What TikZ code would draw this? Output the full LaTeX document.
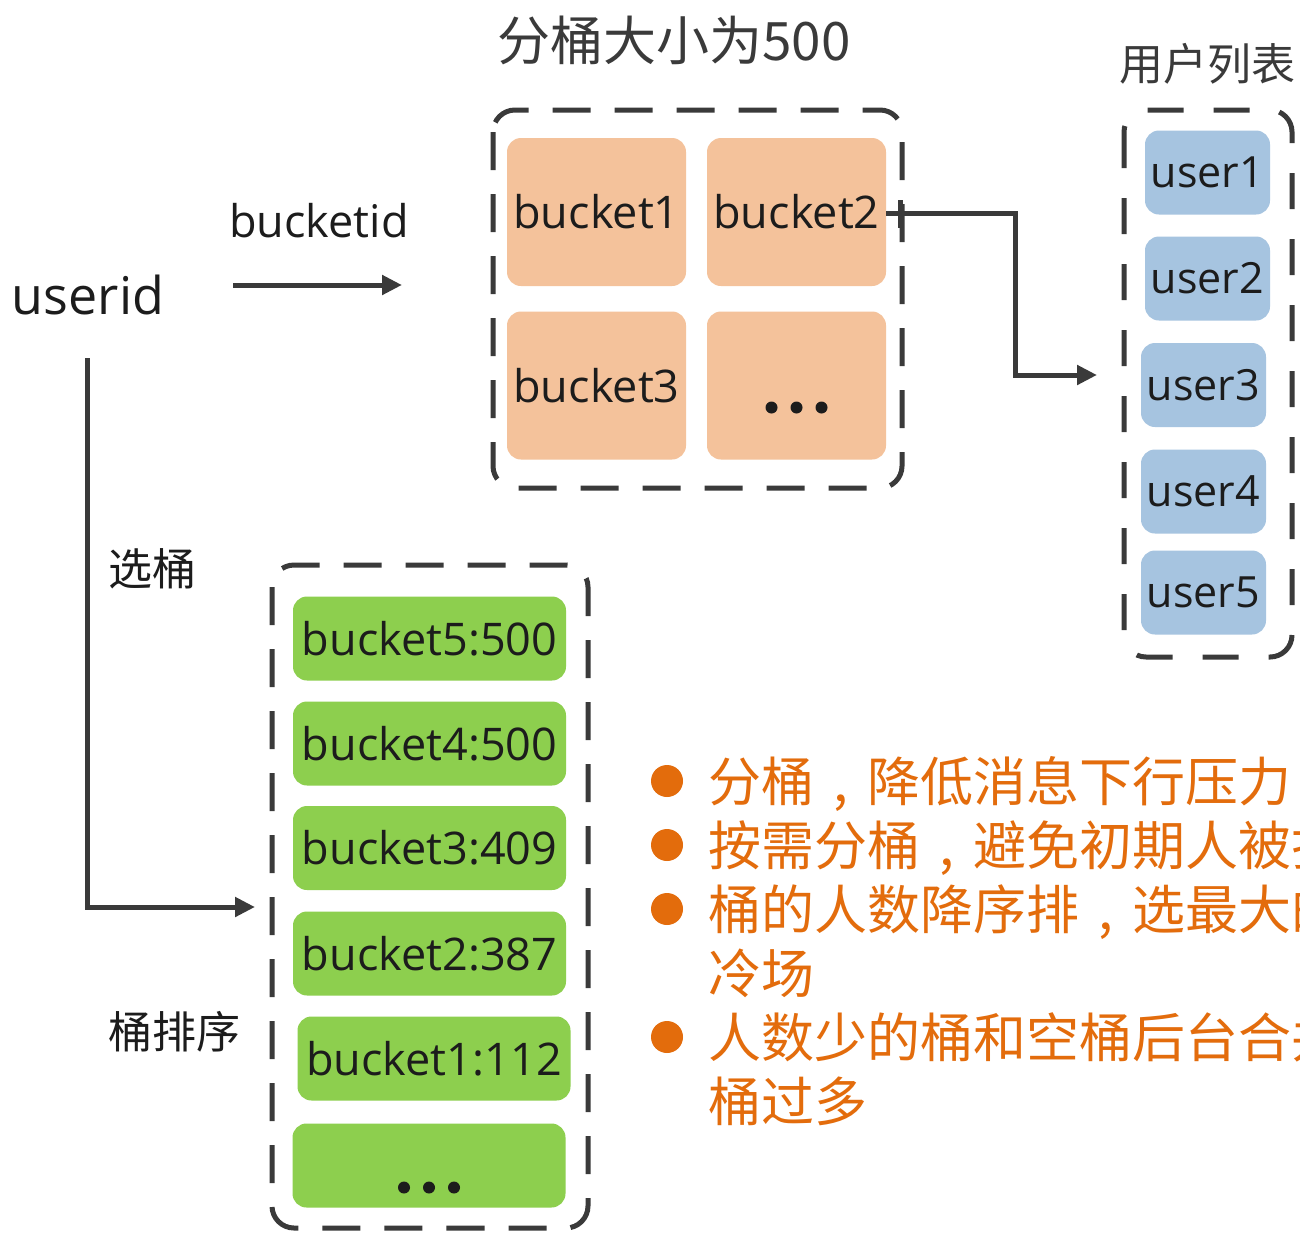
\documentclass[tikz,border=0pt]{standalone}
\usepackage{fontspec}
\setmainfont{Open Sans}
\newfontfamily\cjk{Noto Sans CJK SC}
\usetikzlibrary{arrows.meta,positioning}

\definecolor{linegray}{HTML}{3A3A3A}
\definecolor{peach}{HTML}{F4C29B}
\definecolor{leaf}{HTML}{8DCF4E}
\definecolor{sky}{HTML}{A6C4E0}
\definecolor{accent}{HTML}{E36C0C}
\definecolor{ink}{HTML}{1C1C1C}

% full-width comma, centred in its cell and sitting on the baseline
\newcommand{\zhcomma}{\makebox[1em][c]{,}}

\tikzset{
  every node/.style={inner sep=0pt, outer sep=0pt, text=ink},
  groupframe/.style={draw=linegray, line width=5pt, rounded corners=22pt,
                     dash pattern=on 38pt off 24pt},
  peachbox/.style={fill=peach, rounded corners=14pt, minimum width=179pt,
                   minimum height=148pt, font=\fontsize{45}{50}\selectfont},
  leafbox/.style={fill=leaf, rounded corners=14pt, minimum width=273pt,
                  minimum height=84pt, font=\fontsize{45}{50}\selectfont},
  skybox/.style={fill=sky, rounded corners=14pt, minimum width=125pt,
                 minimum height=84pt, font=\fontsize{43}{50}\selectfont},
  flow/.style={draw=linegray, line width=5pt,
               -{Triangle[length=20pt, width=19pt]}},
  cjklabel/.style={font=\cjk\fontsize{44}{50}\selectfont},
  note/.style={anchor=base west, text=accent, font=\cjk\fontsize{53}{60}\selectfont},
  dotmark/.style={fill=accent, draw=none, circle, minimum size=32pt},
  ellipsisdot/.style={fill=ink, draw=none, circle, minimum size=12pt},
}

\begin{document}
\begin{tikzpicture}[x=1pt, y=-1pt]
\useasboundingbox (0,0) rectangle (1300,1232);
\clip (0,0) rectangle (1300,1232);
\fill[white] (0,0) rectangle (1300,1232);

% left side labels
\node (userid) at (88,295) {\fontsize{52}{56}\selectfont userid};
\node (bucketid) at (319,221) {\fontsize{45}{50}\selectfont bucketid};
\node[cjklabel] (pick) at (152,569) {选桶};
\node[cjklabel] (sortlbl) at (174,1032) {桶排序};

% group of buckets of size 500
\node[font=\cjk\fontsize{53}{60}\selectfont, text=linegray] (title) at (674,40) {分桶大小为500};
\draw[groupframe] (493,110) rectangle (902,488);
\node[peachbox] (b1) at (596.5,212) {bucket1};
\node[peachbox] (b2) at (796.5,212) {bucket2};
\node[peachbox] (b3) at (596.5,385.5) {bucket3};
\node[peachbox] (b4) at (796.5,385.5) {};
\foreach \dx [count=\i] in {-25,0,25}
  \node[ellipsisdot] (b4dot\i) at ([xshift=\dx pt, yshift=-22pt]b4.center) {};

% user list
\node[cjklabel, text=linegray] (ulist) at (1207,64) {用户列表};
\draw[groupframe, dash pattern=on 36pt off 30pt] (1124,110) rectangle (1292,657);
\node[skybox] (u1) at (1207.5,172.5) {user1};
\node[skybox] (u2) at (1207.5,278.5) {user2};
\node[skybox] (u3) at (1203.5,385) {user3};
\node[skybox] (u4) at (1203.5,491.5) {user4};
\node[skybox] (u5) at (1203.5,592.5) {user5};

% sorted buckets
\draw[groupframe] (272,565) rectangle (588,1228);
\node[leafbox] (g5) at (429.5,638.5) {bucket5:500};
\node[leafbox] (g4) at (429.5,743.5) {bucket4:500};
\node[leafbox] (g3) at (429.5,848) {bucket3:409};
\node[leafbox] (g2) at (429.5,953.5) {bucket2:387};
\node[leafbox] (g1) at (434,1058.5) {bucket1:112};
\node[leafbox] (g0) at (429,1165.5) {};
\foreach \dx [count=\i] in {-25,0,25}
  \node[ellipsisdot] (g0dot\i) at ([xshift=\dx pt, yshift=-22pt]g0.center) {};

% connectors
\coordinate (hashfrom) at (233,285);
\coordinate (hashto) at (402,285);
\draw[flow] (hashfrom) -- (hashto);

\coordinate (pickfrom) at (87,358);
\coordinate (pickto) at (255,907);
\draw[flow] (pickfrom) |- (pickto);

\coordinate (turn) at (1015,213);
\coordinate (userin) at (1097,375);
\draw[flow] (b2.east |- turn) -- (turn) |- (userin);
\draw[linegray, line width=5pt] (900,200) -- (900,228);

% notes
\node[dotmark] (d1) at (667,781) {};
\node[note] (n1) at (708,801) {分桶\zhcomma 降低消息下行压力};
\node[dotmark] (d2) at (667,845) {};
\node[note] (n2) at (708,865) {按需分桶\zhcomma 避免初期人被打散};
\node[dotmark] (d3) at (667,909) {};
\node[note] (n3) at (708,929) {桶的人数降序排\zhcomma 选最大的桶};
\node[note] (n4) at (708,993) {冷场};
\node[dotmark] (d5) at (667,1037) {};
\node[note] (n5) at (708,1057) {人数少的桶和空桶后台合并};
\node[note] (n6) at (708,1121) {桶过多};
\end{tikzpicture}
\end{document}
